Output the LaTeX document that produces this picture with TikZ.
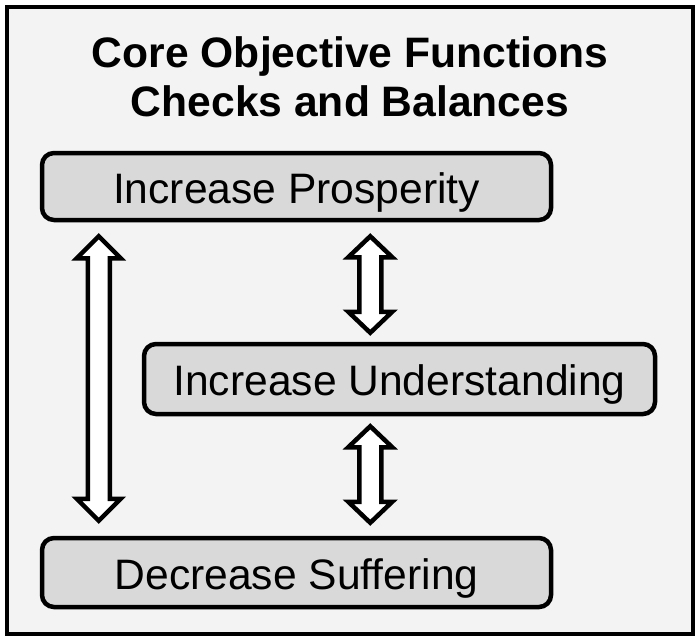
\documentclass[tikz,border=0pt]{standalone}
\usepackage{fontspec}
\setmainfont{Liberation Sans}
\usetikzlibrary{calc}
\definecolor{bgframe}{HTML}{F3F3F3}
\definecolor{boxfill}{HTML}{D9D9D9}
\tikzset{
  stepbox/.style={draw=black, line width=4.5pt, rounded corners=12pt, fill=boxfill,
    inner sep=0pt, text height=33pt, text depth=0pt, font=\fontsize{42.6}{48}\selectfont},
  dblarrow/.style={draw=black, line width=4.5pt, fill=white, line join=miter},
}
\begin{document}
\begin{tikzpicture}[x=1pt,y=-1pt]
\useasboundingbox (0,0) rectangle (700,642);
\fill[white] (0,0) rectangle (700,642);
\node[draw=black, line width=4pt, fill=bgframe, minimum width=686pt, minimum height=627pt, inner sep=0pt] (frame) at (350,320.5) {};
\node[font=\bfseries\fontsize{42.6}{49}\selectfont, align=center] (title) at (350,77) {Core Objective Functions\\Checks and Balances};
\node[stepbox, minimum width=509pt, minimum height=67pt] (P) at (296.5,186.5) {Increase Prosperity};
\node[stepbox, minimum width=511pt, minimum height=70pt] (U) at (399.5,379) {Increase Understanding};
\node[stepbox, minimum width=509pt, minimum height=69pt] (S) at (296.5,572.5) {Decrease Suffering};
% left arrow P <-> S
\coordinate (la) at ($(P.south west)+(59,14)$);
\coordinate (lb) at ($(S.north west)+(59,-15)$);
\draw[dblarrow] (la) -- ++(22,22) -- ++(-11,0) -- ($(lb)+(11,-22)$) -- ++(11,0) -- (lb) -- ++(-22,-22) -- ++(11,0) -- ($(la)+(-11,22)$) -- ++(-11,0) -- cycle;
% middle arrow P <-> U
\coordinate (ma) at ($(P.south west)+(330.5,14)$);
\coordinate (mb) at ($(U.north west)+(228.5,-9)$);
\draw[dblarrow] (ma) -- ++(22,21) -- ++(-11,0) -- ($(mb)+(11,-21)$) -- ++(11,0) -- (mb) -- ++(-22,-21) -- ++(11,0) -- ($(ma)+(-11,21)$) -- ++(-11,0) -- cycle;
% middle arrow U <-> S
\coordinate (na) at ($(U.south west)+(228.5,10)$);
\coordinate (nb) at ($(S.north west)+(330.5,-13)$);
\draw[dblarrow] (na) -- ++(22,21) -- ++(-11,0) -- ($(nb)+(11,-21)$) -- ++(11,0) -- (nb) -- ++(-22,-21) -- ++(11,0) -- ($(na)+(-11,21)$) -- ++(-11,0) -- cycle;
\end{tikzpicture}
\end{document}
